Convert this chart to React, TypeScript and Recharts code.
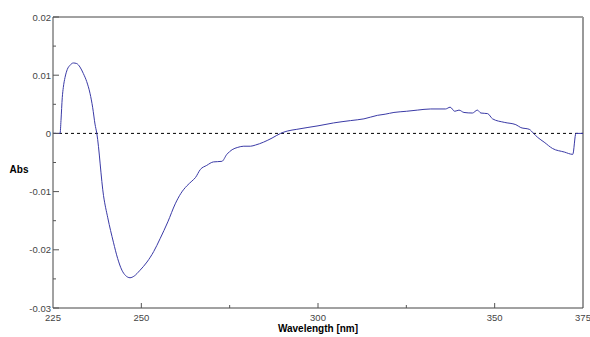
import React from 'react';
import { LineChart, Line, XAxis, YAxis, ReferenceLine } from 'recharts';

const wavelengths = [
  225, 227, 227.26, 227.63, 227.92, 228.4, 229.05, 229.81, 230.75, 231.7, 232.64, 233.58, 234.54, 235.47, 236.24, 236.89,
  237.4, 239.3, 240.5, 242.1, 243.3,
  244.5, 245.5, 246.8, 248, 249.5, 251.6, 253.5, 255.3, 257.5, 259.6, 261.2, 262.9, 264.3, 265.3,
  266.7, 268.5, 270.4, 272.8, 274.2, 275.7, 277.3, 279, 280.9, 282.3, 284.6, 287, 289.4, 291.3, 294,
  296.9, 300, 304.4, 309.2, 313, 316.8, 319, 321.5, 325, 328.1, 331.9, 336.1, 337.4, 338.7, 339.9,
  341.3, 343.7, 345.1, 346.1, 348, 349.4, 352.7, 356, 357.4, 359.8, 361, 362.2, 364, 366.4, 369.7,
  372.1, 373, 375,
];
const absorbance = [
  0, 0, 0.0022, 0.0062, 0.0079, 0.0096, 0.011, 0.0117, 0.0121, 0.012, 0.0114, 0.0103, 0.0089, 0.0069, 0.0044, 0.0016,
  0, -0.0107, -0.0145, -0.0187, -0.0215,
  -0.0235, -0.0244, -0.0248, -0.0245, -0.0236, -0.0221, -0.0203, -0.0181, -0.0152, -0.0121, -0.0103, -0.009, -0.0082, -0.0076,
  -0.0062, -0.0055, -0.0049, -0.0048, -0.0036, -0.0028, -0.0024, -0.0022, -0.0022, -0.002, -0.0015, -0.0008, 0, 0.0004, 0.0007,
  0.001, 0.0013, 0.0018, 0.0022, 0.0025, 0.0031, 0.0033, 0.0036, 0.0038, 0.004, 0.0042, 0.0042, 0.0045, 0.0038, 0.004,
  0.0036, 0.0035, 0.004, 0.0035, 0.0034, 0.0025, 0.0019, 0.0015, 0.001, 0.0007, 0, -0.0007, -0.0015, -0.0026, -0.0032,
  -0.0036, 0, 0,
];

const xTicks = [225, 250, 275, 300, 325, 350, 375];
const xLabelled = [225, 250, 300, 350, 375];
const xMajor = [250, 300, 350];
const yTicks = [-0.03, -0.025, -0.02, -0.015, -0.01, -0.005, 0, 0.005, 0.01, 0.015, 0.02];
const yLabelled = [-0.03, -0.02, -0.01, 0, 0.01, 0.02];

const data = wavelengths.map((w, i) => ({ w, a: absorbance[i] }));

const FONT = '"Liberation Sans", Arial, sans-serif';

const YTick = (props: any) => {
  const { x, y, payload } = props;
  const v = payload.value;
  const major = yLabelled.some((t) => Math.abs(t - v) < 1e-9);
  return (
    <g>
      <line x1={x} x2={x + (major ? 6 : 3)} y1={y} y2={y} stroke="#555" strokeWidth={1} />
      {major && (
        <text x={x - 2} y={y} dy={3.5} textAnchor="end" fontSize={9.5} fill="#444" fontFamily={FONT}>
          {String(v)}
        </text>
      )}
    </g>
  );
};

const XTick = (props: any) => {
  const { x, y, payload } = props;
  const v = payload.value;
  const labelled = xLabelled.includes(v);
  const major = xMajor.includes(v);
  const showLine = v !== 225 && v !== 375;
  return (
    <g>
      {showLine && <line x1={x} x2={x} y1={y} y2={y - (major ? 5 : 3)} stroke="#555" strokeWidth={1} />}
      {labelled && (
        <text x={x} y={y} dy={13} textAnchor="middle" fontSize={9.5} fill="#444" fontFamily={FONT}>
          {String(v)}
        </text>
      )}
    </g>
  );
};

const AbsLabel = (props: any) => {
  const { viewBox } = props;
  return (
    <text x={19} y={viewBox.y + viewBox.height / 2 + 10} textAnchor="middle" fontSize={10} fontWeight="bold" fill="#000" fontFamily={FONT}>
      Abs
    </text>
  );
};

const WlLabel = (props: any) => {
  const { viewBox } = props;
  return (
    <text x={viewBox.x + viewBox.width / 2} y={viewBox.y + 24} textAnchor="middle" fontSize={10} fontWeight="bold" fill="#000" fontFamily={FONT}>
      Wavelength [nm]
    </text>
  );
};

export default function App() {
  return (
    <div style={{ position: 'absolute', left: 0, top: 0, width: 590, height: 337, background: '#fff' }}>
      <LineChart width={590} height={337} data={data} margin={{ top: 17, right: 7, bottom: 0, left: 8 }}>
        <XAxis
          dataKey="w"
          type="number"
          domain={[225, 375]}
          ticks={xTicks}
          interval={0}
          tickSize={0}
          tickMargin={0}
          tickLine={false}
          height={29}
          axisLine={{ stroke: '#444' }}
          tick={<XTick />}
          label={<WlLabel />}
        />
        <YAxis
          type="number"
          domain={[-0.03, 0.02]}
          ticks={yTicks}
          interval={0}
          tickSize={0}
          tickMargin={0}
          tickLine={false}
          width={45}
          axisLine={{ stroke: '#444' }}
          tick={<YTick />}
          label={<AbsLabel />}
          allowDataOverflow
        />
        <ReferenceLine y={0.02} stroke="#444" strokeWidth={1} />
        <ReferenceLine x={375} stroke="#999" strokeWidth={2} />
        <ReferenceLine y={0} stroke="#000" strokeDasharray="3 3" strokeWidth={1} />
        <Line
          type="monotone"
          dataKey="a"
          stroke="#3a3aa6"
          strokeWidth={1}
          dot={false}
          isAnimationActive={false}
        />
      </LineChart>
    </div>
  );
}
